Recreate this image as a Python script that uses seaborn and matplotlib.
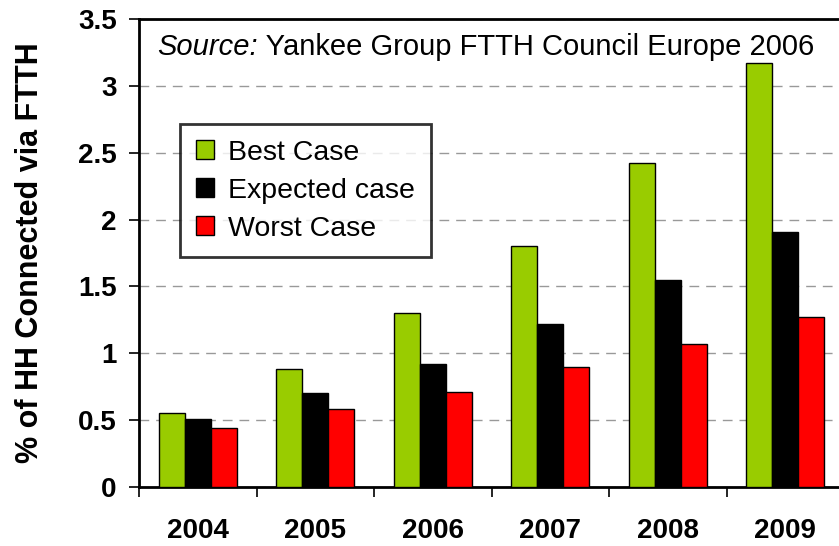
import matplotlib
matplotlib.use("Agg")
import matplotlib.pyplot as plt
import seaborn as sns
import pandas as pd
from matplotlib.patches import Patch
from matplotlib.ticker import FixedLocator, FuncFormatter

years = ["2004", "2005", "2006", "2007", "2008", "2009"]
best_case = [0.55, 0.88, 1.30, 1.80, 2.42, 3.17]
expected_case = [0.51, 0.70, 0.92, 1.22, 1.55, 1.91]
worst_case = [0.44, 0.58, 0.71, 0.90, 1.07, 1.27]
series_names = ["Best Case", "Expected case", "Worst Case"]
colors = ["#99CC00", "#000000", "#FF0000"]
yticks = [0, 0.5, 1, 1.5, 2, 2.5, 3, 3.5]

rows = []
for name, vals in zip(series_names, [best_case, expected_case, worst_case]):
    for y, v in zip(years, vals):
        rows.append({"year": y, "value": v, "case": name})
df = pd.DataFrame(rows)

sns.set_style("white")
plt.rcParams["font.family"] = ["Liberation Sans", "DejaVu Sans"]
plt.rcParams["text.color"] = "black"
plt.rcParams["xtick.color"] = "black"
plt.rcParams["ytick.color"] = "black"
plt.rcParams["axes.labelcolor"] = "black"

fig = plt.figure(figsize=(8.39, 5.46), dpi=100)
ax = fig.add_axes([139/839, (546-487)/546, 705/839, 468/546])

sns.barplot(data=df, x="year", y="value", hue="case", order=years,
            hue_order=series_names, palette=colors, saturation=1,
            edgecolor="black", linewidth=1.0, width=0.66, ax=ax, zorder=3)

ax.set_xlim(-0.5, 5.5)
ax.set_ylim(0, 3.5)
ax.yaxis.set_major_locator(FixedLocator(yticks))
ax.yaxis.set_major_formatter(FuncFormatter(lambda v, p: f"{v:g}"))
ax.grid(axis="y", linestyle=(0, (7, 5)), color="#999999", lw=1, zorder=0)
ax.set_axisbelow(True)

for s in ["left", "bottom", "top", "right"]:
    ax.spines[s].set_linewidth(2)
    ax.spines[s].set_color("black")

ax.tick_params(axis="y", which="major", length=7, width=1.2, direction="out",
               left=True, pad=9, labelsize=20, colors="black")
ax.tick_params(axis="x", which="major", length=0, pad=22, labelsize=20, colors="black")
ax.xaxis.set_minor_locator(FixedLocator([-0.5, 0.5, 1.5, 2.5, 3.5, 4.5, 5.5]))
ax.tick_params(axis="x", which="minor", length=7, width=1.2, direction="out",
               bottom=True, colors="black")
for lbl in ax.get_xticklabels() + ax.get_yticklabels():
    lbl.set_fontweight("bold")

ax.set_xlabel("")
ax.set_ylabel("% of HH Connected via FTTH", fontsize=22, fontweight="bold", color="black")
ax.yaxis.set_label_coords((45-139)/705, 0.5)

if ax.get_legend() is not None:
    ax.get_legend().remove()
handles = [Patch(facecolor=c, edgecolor="black", linewidth=1) for c in colors]
leg = ax.legend(handles, series_names, loc="upper left",
                bbox_to_anchor=((180-139)/705, (487-124)/468), borderaxespad=0,
                fontsize=20.5, handlelength=0.65, handleheight=0.65,
                handletextpad=0.5, labelspacing=0.42, borderpad=0.55,
                frameon=True, fancybox=False, edgecolor="black")
leg.get_frame().set_linewidth(2)
leg.set_zorder(5)

t1 = ax.text((157-139)/705, (487-55)/468, "Source:", style="italic",
             fontsize=21, transform=ax.transAxes, va="baseline", ha="left", zorder=6)
ax.annotate(" Yankee Group FTTH Council Europe 2006", xy=(1, 0), xycoords=t1,
            va="bottom", ha="left", fontsize=21, zorder=6)

fig.savefig("out.png", dpi=100)
